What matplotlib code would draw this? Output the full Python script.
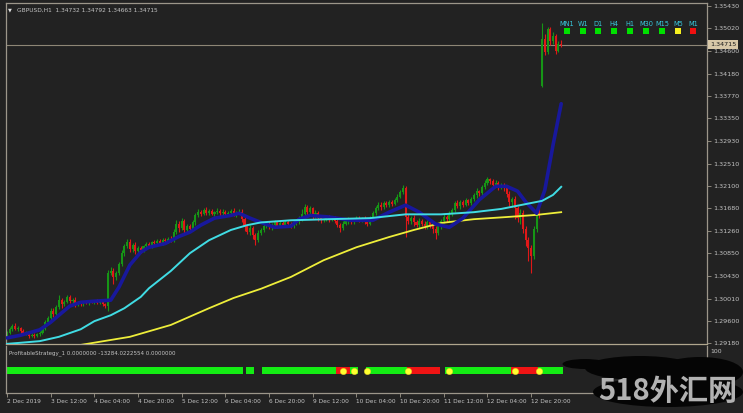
import matplotlib
matplotlib.use("Agg")
import matplotlib.pyplot as plt
from matplotlib.patches import Rectangle, Ellipse

# ---------------- data ----------------
header_text = "GBPUSD,H1  1.34732 1.34792 1.34663 1.34715"
indicator_text = "ProfitableStrategy_1 0.0000000 -13284.0222554 0.0000000"
current_price = 1.34715

first_open = 1.2935
open_gaps = {196: 1.3395}
closes = [
    1.2938, 1.2945, 1.2950, 1.2944, 1.2947, 1.2940, 1.2936, 1.2938, 1.2932, 1.2934, 1.2931, 1.2935, 1.2938,
    1.2945, 1.2958, 1.2965, 1.2978, 1.2972, 1.2985, 1.2998, 1.2990, 1.2995,
    1.3003, 1.2996, 1.2999, 1.2991, 1.2994,
    1.2990, 1.2995, 1.2992, 1.2996, 1.2994, 1.2997, 1.2993, 1.2995, 1.2991, 1.2988,
    1.3048, 1.3052, 1.3040, 1.3048,
    1.3065, 1.3085, 1.3098, 1.3106,
    1.3092, 1.3100, 1.3089, 1.3095, 1.3090, 1.3098,
    1.3102, 1.3098, 1.3105, 1.3103, 1.3108, 1.3104, 1.3110, 1.3107, 1.3112, 1.3109,
    1.3125, 1.3140, 1.3132, 1.3145, 1.3128, 1.3135, 1.3130, 1.3142,
    1.3155, 1.3162, 1.3158, 1.3165, 1.3160, 1.3163, 1.3158, 1.3161, 1.3164, 1.3159, 1.3162, 1.3158, 1.3160,
    1.3163, 1.3157, 1.3160, 1.3162,
    1.3148, 1.3135, 1.3125, 1.3132, 1.3118, 1.3110, 1.3122, 1.3128,
    1.3135, 1.3140, 1.3133, 1.3138, 1.3142, 1.3136, 1.3141, 1.3137, 1.3143, 1.3139, 1.3135, 1.3140, 1.3144,
    1.3148, 1.3158,
    1.3170, 1.3162, 1.3168, 1.3155, 1.3160, 1.3150, 1.3146,
    1.3148, 1.3152, 1.3147, 1.3150, 1.3145, 1.3138, 1.3132, 1.3140, 1.3144, 1.3148, 1.3143, 1.3147, 1.3150,
    1.3146, 1.3149, 1.3144, 1.3140, 1.3150,
    1.3160, 1.3168, 1.3175, 1.3170, 1.3178, 1.3174, 1.3180, 1.3177, 1.3183, 1.3190, 1.3198, 1.3205,
    1.3152, 1.3145, 1.3150, 1.3142, 1.3138, 1.3145, 1.3140, 1.3135, 1.3142, 1.3138, 1.3130, 1.3122,
    1.3135, 1.3145, 1.3152, 1.3148, 1.3158, 1.3165,
    1.3178, 1.3172, 1.3180, 1.3175, 1.3183, 1.3178, 1.3185,
    1.3192, 1.3200, 1.3196, 1.3208, 1.3215, 1.3222,
    1.3218, 1.3212, 1.3215, 1.3208, 1.3212, 1.3205,
    1.3195, 1.3180, 1.3185, 1.3168, 1.3150, 1.3160,
    1.3130, 1.3110, 1.3095, 1.3080,
    1.3130, 1.3165, 1.3158,
    1.3482, 1.3458, 1.3500, 1.3478, 1.3488, 1.3460, 1.34732, 1.34715,
]
upper_wick_pips = [
    3, 4, 3, 5, 3, 2, 4, 3, 2, 4, 3, 2, 3,
    3, 4, 3, 5, 6, 4, 9, 4, 3,
    4, 5, 3, 4, 3,
    3, 2, 3, 2, 3, 2, 3, 2, 3, 2,
    6, 8, 5, 4,
    4, 5, 4, 6,
    6, 4, 5, 3, 4, 3,
    3, 4, 3, 4, 3, 4, 3, 4, 3, 4,
    5, 6, 4, 5, 4, 5, 4, 5,
    4, 5, 3, 4, 5, 3, 4, 3, 5, 3, 4, 3, 4, 3, 5, 3, 4,
    4, 5, 3, 6, 4, 5, 6, 4,
    4, 3, 5, 3, 4, 3, 5, 3, 4, 3, 4, 3, 4, 5, 8,
    6, 5, 4, 3, 5, 4, 3,
    3, 4, 3, 4, 3, 4, 3, 4, 3, 4, 3, 4, 3, 4, 3, 4, 3, 4,
    4, 5, 4, 5, 3, 4, 3, 4, 5, 4, 5, 6,
    4, 5, 4, 5, 4, 5, 4, 5, 4, 5, 4, 5,
    5, 4, 5, 4, 5, 4,
    4, 5, 3, 4, 5, 3, 4,
    4, 5, 3, 4, 5, 4,
    3, 4, 5, 4, 3, 4,
    4, 5, 4, 6, 5, 6,
    5, 6, 5, 6,
    5, 6, 8,
    30, 10, 5, 5, 7, 4, 5, 6,
]
lower_wick_pips = [
    3, 2, 4, 2, 3, 4, 2, 3, 4, 2, 3, 2, 3,
    2, 3, 4, 3, 5, 3, 4, 6, 3,
    3, 4, 3, 5, 3,
    2, 3, 2, 3, 2, 3, 2, 3, 3, 4,
    10, 4, 12, 5,
    3, 4, 5, 3,
    4, 5, 6, 3, 4, 3,
    3, 4, 3, 3, 4, 3, 3, 4, 3, 3,
    4, 5, 8, 4, 10, 5, 6, 4,
    4, 3, 5, 3, 4, 5, 3, 4, 3, 5, 3, 4, 3, 4, 3, 5, 3,
    6, 8, 5, 7, 6, 10, 5, 4,
    3, 4, 3, 5, 3, 4, 3, 4, 3, 5, 3, 4, 3, 4, 3,
    4, 6, 5, 6, 4, 5, 5,
    4, 3, 4, 3, 4, 5, 7, 4, 3, 4, 3, 4, 3, 4, 3, 4, 5, 3,
    3, 4, 3, 5, 3, 4, 3, 4, 3, 4, 3, 4,
    37, 6, 5, 6, 5, 6, 5, 6, 5, 6, 8, 10,
    4, 5, 4, 5, 4, 5,
    4, 3, 5, 4, 3, 4, 3,
    3, 4, 5, 3, 4, 3,
    4, 5, 4, 5, 4, 5,
    6, 8, 10, 20, 8, 10,
    8, 12, 25, 32,
    6, 5, 7,
    2, 6, 3, 8, 6, 5, 2, 5,
]

blue_ma_bars = [0, 5, 12, 16, 19, 23, 27, 32, 38, 41, 45, 49, 52, 58, 63, 67, 71, 76, 82, 85,
                89, 93, 98, 104, 107, 111, 118, 126, 134, 140, 146, 151, 157, 162, 167, 173, 179, 183, 187, 190,
                194, 197, 200, 203]
blue_ma_vals = [1.2928, 1.2933, 1.2943, 1.2957, 1.2970, 1.2987, 1.2994, 1.2996, 1.2998, 1.3022,
                1.3063, 1.3087, 1.3096, 1.3103, 1.3116, 1.3124, 1.3137, 1.3150, 1.3155, 1.3159,
                1.3150, 1.3142, 1.3133, 1.3135, 1.3148, 1.3155, 1.3152, 1.3146, 1.3146, 1.3161,
                1.3174, 1.3161, 1.3139, 1.3133, 1.3150, 1.3184, 1.3209, 1.3209, 1.3200, 1.3180,
                1.3159, 1.3202, 1.3285, 1.3362]
cyan_ma_bars = [0, 5, 12, 19, 27, 32, 38, 43, 49, 52, 60, 67, 74, 82, 88, 93, 104, 118, 133, 146,
                159, 171, 181, 192, 196, 200, 203]
cyan_ma_vals = [1.2917, 1.2919, 1.2922, 1.2930, 1.2944, 1.2959, 1.2970, 1.2983, 1.3004, 1.3020,
                1.3052, 1.3085, 1.3109, 1.3128, 1.3137, 1.3142, 1.3146, 1.3148, 1.3150, 1.3157,
                1.3157, 1.3161, 1.3167, 1.3178, 1.3182, 1.3193, 1.3208]
yellow_ma_bars = [10, 27, 45, 60, 74, 83, 93, 104, 116, 128, 140, 149, 159, 171, 183, 194, 203]
yellow_ma_vals = [1.2895, 1.2915, 1.2930, 1.2952, 1.2983, 1.3002, 1.3019, 1.3041, 1.3072, 1.3096,
                  1.3115, 1.3128, 1.3141, 1.3148, 1.3152, 1.3156, 1.3161]

price_ticks = [1.29180, 1.29600, 1.30010, 1.30430, 1.30850, 1.31260, 1.31680, 1.32100,
               1.32510, 1.32930, 1.33350, 1.33770, 1.34180, 1.34600, 1.35020, 1.35430]
time_tick_bars = [0, 16, 32, 48, 64, 80, 96, 112, 128, 144, 160, 176, 192]
time_tick_labels = ["2 Dec 2019", "3 Dec 12:00", "4 Dec 04:00", "4 Dec 20:00", "5 Dec 12:00",
                    "6 Dec 04:00", "6 Dec 20:00", "9 Dec 12:00", "10 Dec 04:00", "10 Dec 20:00",
                    "11 Dec 12:00", "12 Dec 04:00", "12 Dec 20:00"]

signal_start = [0, 88, 94, 121, 126, 132, 147, 161, 185, 195]
signal_end = [86, 90, 120, 125, 128, 146, 158, 184, 194, 203]
signal_state = ["buy", "buy", "buy", "sell", "buy", "buy", "sell", "buy", "sell", "buy"]
signal_dots = [123, 127, 132, 147, 162, 186, 195]

tf_labels = ["MN1", "W1", "D1", "H4", "H1", "M30", "M15", "M5", "M1"]
tf_states = ["up", "up", "up", "up", "up", "up", "up", "flat", "down"]

# ---------------- style ----------------
W, H = 743, 413
BG = "#222222"
FRAME = "#9c968a"
TXT = "#c4c4c4"
UP_C = "#169616"
DN_C = "#e01818"
FONT = "DejaVu Sans"

fig = plt.figure(figsize=(W / 100, H / 100), dpi=100)
fig.patch.set_facecolor(BG)


def rect(l, t, r, b):
    return [l / W, 1 - b / H, (r - l) / W, (b - t) / H]


def fx(x):
    return x / W


def fy(y):
    return 1 - y / H


# bar index -> pixel: x = 7 + 2.73 * i ; axes span 6..707 px
x_lo = (6 - 7) / 2.73
x_hi = (707 - 7) / 2.73
ppx = 0.00018533
y_lo = 1.29180 - (344 - 343.3) * ppx
y_hi = 1.29180 + (343.3 - 3) * ppx

ax = fig.add_axes(rect(6, 3, 707, 344))
ax.set_facecolor(BG)
ax.set_xlim(x_lo, x_hi)
ax.set_ylim(y_lo, y_hi)

# candles
opens = [first_open] + closes[:-1]
for k, v in open_gaps.items():
    opens[k] = v
n = len(closes)
idx = list(range(n))
highs = [max(o, c) + u * 0.0001 for o, c, u in zip(opens, closes, upper_wick_pips)]
lows = [min(o, c) - d * 0.0001 for o, c, d in zip(opens, closes, lower_wick_pips)]
cols = [UP_C if c >= o else DN_C for o, c in zip(opens, closes)]
ax.vlines(idx, lows, highs, colors=cols, linewidth=0.8, zorder=2)
bodies = [max(abs(c - o), 0.00005) for o, c in zip(opens, closes)]
bottoms = [min(o, c) for o, c in zip(opens, closes)]
ax.bar(idx, bodies, bottom=bottoms, width=0.75, color=cols, linewidth=0, zorder=2)

# moving averages
ax.plot(yellow_ma_bars, yellow_ma_vals, color="#eeee3a", lw=1.3, zorder=3)
ax.plot(blue_ma_bars, blue_ma_vals, color="#18189c", lw=2.6, zorder=3.5,
        solid_capstyle="round", solid_joinstyle="round")
ax.plot(cyan_ma_bars, cyan_ma_vals, color="#40dce4", lw=1.4, zorder=4)

# current price line
ax.axhline(current_price, color="#8e8676", lw=0.8, zorder=1)

ax.yaxis.tick_right()
ax.set_yticks(price_ticks)
ax.set_yticklabels([f"{v:.5f}" for v in price_ticks])
ax.tick_params(axis="y", length=3, width=0.6, color=FRAME, labelsize=4.6,
               labelcolor=TXT, pad=1.5, labelfontfamily=FONT)
ax.set_xticks([])
for s in ax.spines.values():
    s.set_color(FRAME)
    s.set_linewidth(0.9)
ax.spines["bottom"].set_color("#b0a68e")

# current price tag
fig.text(fx(723), fy(44.5), f"{current_price:.5f}", fontsize=4.6, family=FONT,
         color="#1a1a1a", ha="center", va="center",
         bbox=dict(boxstyle="square,pad=0.25", fc="#d8c8a8", ec="none"))

# header
fig.text(fx(8), fy(10), "\u25bc", fontsize=3.6, family=FONT, color="#e0e0e0",
         ha="left", va="center")
fig.text(fx(17), fy(10), header_text, fontsize=4.2, family=FONT, color=TXT,
         ha="left", va="center")

# timeframe panel
tf_colors = {"up": "#00e000", "flat": "#f6f020", "down": "#f01010"}
tf_x = [567, 583, 598, 614, 630, 646, 662, 678, 693]
for lab, st, xc in zip(tf_labels, tf_states, tf_x):
    fig.text(fx(xc), fy(24), lab, fontsize=4.8, family=FONT, color="#38c8dc",
             ha="center", va="center")
    fig.add_artist(Rectangle((fx(xc - 3), fy(34)), 6 / W, 6 / H,
                             transform=fig.transFigure, fc=tf_colors[st], ec="none"))

# ---------------- indicator sub-window ----------------
ax2 = fig.add_axes(rect(6, 346, 707, 393))
ax2.set_facecolor(BG)
ax2.set_xlim(x_lo, x_hi)
ax2.set_ylim(0, 112)
sig_col = {"buy": "#14ec14", "sell": "#f01414"}
for s0, s1, st in zip(signal_start, signal_end, signal_state):
    ax2.bar(s0 - 0.5, 17, width=s1 - s0 + 1, bottom=45, align="edge",
            color=sig_col[st], linewidth=0, zorder=2)
ax2.plot(signal_dots, [53.5] * len(signal_dots), "o", ms=4.6, color="#ffff30",
         mec="#e8d020", mew=0.3, zorder=3, linestyle="none")

ax2.yaxis.tick_right()
ax2.set_yticks([100])
ax2.set_yticklabels(["100"])
ax2.tick_params(axis="y", length=0, labelsize=4.4, labelcolor=TXT, pad=2.5,
                labelfontfamily=FONT)
ax2.set_xticks(time_tick_bars)
ax2.set_xticklabels(time_tick_labels)
for lab in ax2.get_xticklabels():
    lab.set_horizontalalignment("left")
ax2.tick_params(axis="x", length=3, width=0.6, color=FRAME, labelsize=4.2,
                labelcolor=TXT, pad=1.5, labelfontfamily=FONT)
for s in ax2.spines.values():
    s.set_color(FRAME)
    s.set_linewidth(0.9)
ax2.spines["top"].set_visible(False)

fig.text(fx(9), fy(353), indicator_text, fontsize=4.0, family=FONT, color=TXT,
         ha="left", va="center")

# ---------------- watermark ----------------
for cx, cy, w, h in [(585, 364, 45, 10), (640, 368, 110, 24), (700, 372, 86, 30),
                     (668, 392, 150, 30)]:
    fig.add_artist(Ellipse((fx(cx), fy(cy)), w / W, h / H, transform=fig.transFigure,
                           fc="#050505", ec="none"))
fig.text(fx(668), fy(391), "518外汇网", fontsize=21, fontweight="bold",
         family=["Noto Sans CJK SC", "DejaVu Sans"], color="#b2b2b2",
         ha="center", va="center")

fig.savefig("out.png", dpi=100, facecolor=BG)
